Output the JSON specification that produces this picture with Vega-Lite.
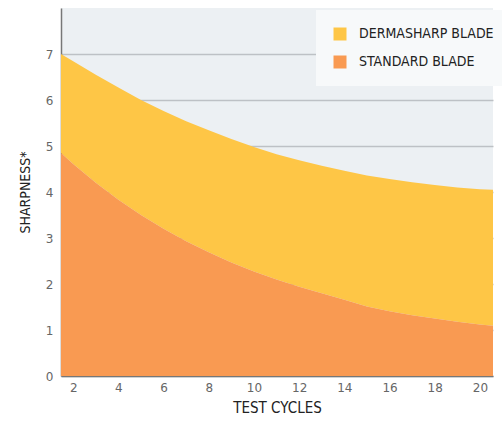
{
  "$schema": "https://vega.github.io/schema/vega-lite/v6.json",
  "width": 432,
  "height": 368,
  "autosize": "none",
  "padding": {"left": 61, "top": 8, "right": 9, "bottom": 45},
  "background": "#ffffff",
  "config": {
    "view": {"fill": "#ECF0F3", "stroke": null},
    "font": "DejaVu Sans Condensed"
  },
  "data": {
    "values": [
      {"cycle": 1.46, "derma": 7.0, "standard": 4.85},
      {"cycle": 2, "derma": 6.84, "standard": 4.61},
      {"cycle": 3, "derma": 6.55, "standard": 4.2},
      {"cycle": 4, "derma": 6.27, "standard": 3.83},
      {"cycle": 5, "derma": 6.0, "standard": 3.5},
      {"cycle": 6, "derma": 5.76, "standard": 3.2},
      {"cycle": 7, "derma": 5.54, "standard": 2.93},
      {"cycle": 8, "derma": 5.34, "standard": 2.69},
      {"cycle": 9, "derma": 5.15, "standard": 2.47},
      {"cycle": 10, "derma": 4.98, "standard": 2.27},
      {"cycle": 11, "derma": 4.82, "standard": 2.1},
      {"cycle": 12, "derma": 4.69, "standard": 1.94},
      {"cycle": 13, "derma": 4.57, "standard": 1.8},
      {"cycle": 14, "derma": 4.46, "standard": 1.66},
      {"cycle": 15, "derma": 4.36, "standard": 1.51},
      {"cycle": 16, "derma": 4.28, "standard": 1.41},
      {"cycle": 17, "derma": 4.21, "standard": 1.32},
      {"cycle": 18, "derma": 4.15, "standard": 1.25},
      {"cycle": 19, "derma": 4.1, "standard": 1.18},
      {"cycle": 20, "derma": 4.06, "standard": 1.12},
      {"cycle": 20.58, "derma": 4.05, "standard": 1.09}
    ]
  },
  "encoding": {
    "x": {
      "field": "cycle",
      "type": "quantitative",
      "scale": {"domain": [1.46, 20.58], "nice": false, "zero": false},
      "axis": {
        "values": [2, 4, 6, 8, 10, 12, 14, 16, 18, 20],
        "title": "TEST CYCLES",
        "titleFont": "DejaVu Sans Condensed",
        "titleFontSize": 15,
        "titleFontWeight": "normal",
        "titleColor": "#222222",
        "titlePadding": 7,
        "labelFont": "DejaVu Sans",
        "labelFontSize": 12,
        "labelColor": "#666666",
        "labelPadding": 6,
        "ticks": false,
        "grid": false,
        "domainColor": "#777777",
        "domainWidth": 1.5
      }
    }
  },
  "layer": [
    {
      "mark": {"type": "area"},
      "encoding": {
        "y": {
          "field": "derma",
          "type": "quantitative",
          "scale": {"domain": [0, 8], "nice": false},
          "axis": {
            "values": [0, 1, 2, 3, 4, 5, 6, 7],
            "title": "SHARPNESS*",
            "titleFont": "DejaVu Sans Condensed",
            "titleFontSize": 14,
            "titleFontWeight": "normal",
            "titleColor": "#222222",
            "titleX": -36,
            "titleY": 184,
            "titleAngle": -90,
            "titleAlign": "center",
            "titleBaseline": "middle",
            "labelFont": "DejaVu Sans",
            "labelFontSize": 12,
            "labelColor": "#666666",
            "labelPadding": 8,
            "ticks": false,
            "grid": true,
            "gridColor": "#BDC1C5",
            "gridWidth": 1.5,
            "domainColor": "#777777",
            "domainWidth": 1.5
          }
        },
        "y2": {"field": "standard"},
        "color": {
          "datum": "DERMASHARP BLADE",
          "type": "nominal",
          "scale": {
            "domain": ["DERMASHARP BLADE", "STANDARD BLADE"],
            "range": ["#FEC646", "#F99A52"]
          },
          "legend": {
            "title": null,
            "orient": "none",
            "legendX": 255,
            "legendY": 2,
            "fillColor": "#F7F9FA",
            "padding": 17,
            "symbolType": "square",
            "symbolSize": 169,
            "symbolStrokeWidth": 0,
            "symbolOpacity": 1,
            "labelFont": "DejaVu Sans Condensed",
            "labelFontSize": 14,
            "labelColor": "#222222",
            "labelOffset": 12,
            "labelLimit": 300,
            "rowPadding": 14,
            "encode": {
              "symbols": {
                "enter": {
                  "fill": {"signal": "datum.value === 'DERMASHARP BLADE' ? '#FDB913' : '#F47920'"}
                },
                "update": {
                  "fill": {"signal": "datum.value === 'DERMASHARP BLADE' ? '#FDB913' : '#F47920'"},
                  "stroke": {"value": "transparent"}
                }
              }
            }
          }
        }
      }
    },
    {
      "mark": {"type": "area"},
      "encoding": {
        "y": {"field": "standard", "type": "quantitative"},
        "color": {"datum": "STANDARD BLADE", "type": "nominal"}
      }
    }
  ]
}
